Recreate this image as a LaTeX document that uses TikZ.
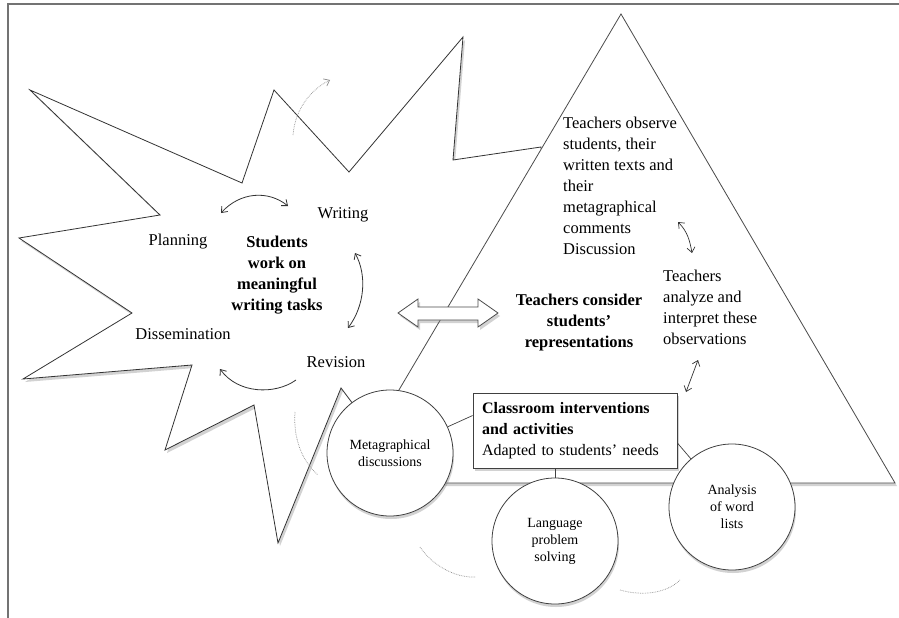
\documentclass[tikz,border=0pt]{standalone}
\usepackage{fontspec}
\setmainfont{Liberation Serif}
\usetikzlibrary{shadows,arrows.meta}
\begin{document}
\begin{tikzpicture}[x=1pt,y=-1pt,
  lbl/.style={font=\fontsize{16.5}{21}\selectfont, inner sep=0pt},
  bld/.style={font=\fontsize{16.5}{21}\selectfont\bfseries, inner sep=0pt},
  circ/.style={circle, draw=black!75, line width=0.8pt, fill=white, minimum size=126pt, inner sep=0pt,
    align=center, font=\fontsize{14}{17}\selectfont,
    drop shadow={shadow xshift=1pt, shadow yshift=-3pt, opacity=0.35}},
  conn/.style={draw=black!75, line width=0.7pt},
  cyc/.style={draw=black!80, line width=0.8pt, -{Straight Barb[length=5pt,width=8pt]}},
  cycb/.style={draw=black!80, line width=0.8pt, {Straight Barb[length=5pt,width=8pt]}-{Straight Barb[length=5pt,width=8pt]}},
  dots/.style={draw=black!45, line width=0.7pt, densely dotted},
  shd/.style={drop shadow={shadow xshift=2pt, shadow yshift=-3pt, opacity=0.35}}
]
\useasboundingbox (0,0) rectangle (899,618);
\fill[white] (0,0) rectangle (899,618);
% frame
\draw[black!55, line width=1.5pt] (899,4) -- (8,4) -- (8,618);

% star
\draw[black!80, line width=0.8pt, fill=white, shd]
  (30,90) -- (242,183) -- (274,90) -- (349,172) -- (463,37) -- (453,160) -- (541,147)
  -- (560,330) -- (380,440) -- (341,388) -- (278,543) -- (254,405) -- (165,450)
  -- (192,365) -- (23,379) -- (132,313) -- (19,238) -- (160,215) -- cycle;

% triangle
\draw[black!70, line width=0.8pt, fill=white, shd] (621,14) -- (895,483) -- (344,483) -- cycle;

% hollow double arrow
\draw[black!70, line width=0.8pt, fill=white, shd]
  (398,313) -- (418,299) -- (418,307) -- (478,307) -- (478,299) -- (498,313)
  -- (478,327) -- (478,320) -- (418,320) -- (418,327) -- cycle;

% star texts
\node[lbl] (writing) at (343,215) {Writing};
\node[lbl] (planning) at (178,242) {Planning};
\node[bld, align=center] (students) at (277,275) {Students\\work on\\meaningful\\writing tasks};
\node[lbl] (dissem) at (183,334) {Dissemination};
\node[lbl] (revision) at (336,362) {Revision};

% cycle arrows
\draw[cycb] (221,213) .. controls (240,192) and (268,190) .. (288,206);
\draw[cycb] (355,253) .. controls (367,275) and (365,305) .. (348,328);
\draw[cyc] (296,380) .. controls (275,395) and (238,394) .. (220,369);
\draw[dots, -{Straight Barb[length=5pt,width=8pt]}] (293,135) .. controls (295,110) and (310,90) .. (330,80);

% triangle texts
\node[lbl, align=left, anchor=west] (observe) at (563,186)
  {Teachers observe\\students, their\\written texts and\\their\\metagraphical\\comments\\Discussion};
\node[lbl, align=left, anchor=west] (analyze) at (663,307)
  {Teachers\\analyze and\\interpret these\\observations};
\node[bld, align=center] (consider) at (579,323) {Teachers consider\\students'\\representations};
\draw[cycb, line width=0.7pt] (678,222) .. controls (688,232) and (690,242) .. (692,253);
\draw[cycb, line width=0.7pt] (698,360) -- (686,392);

% circles
\node[circ] (meta) at (390,453) {Metagraphical\\discussions};
\node[circ] (lang) at (555,541) {Language\\problem\\solving};
\node[circ] (ana) at (732,507) {Analysis\\of word\\lists};

% box
\node[draw=black!75, line width=0.8pt, fill=white, minimum width=204pt, minimum height=75pt,
  text width=186pt, inner sep=9pt, align=left, font=\fontsize{16}{21}\selectfont,
  drop shadow={shadow xshift=1.5pt, shadow yshift=-2.5pt, opacity=0.35}]
  (box) at (575,430.5) {\textbf{Classroom interventions}\\\textbf{and activities}\\Adapted to students' needs};

% connectors
\draw[conn] (meta) -- ([yshift=15pt]box.west);
\draw[conn] (lang.north) -- (lang.north |- box.south);
\draw[conn] ([yshift=-12.5pt]box.east) -- (ana);

% dotted arcs
\draw[dots] (295,412) .. controls (293,440) and (303,462) .. (318,475);
\draw[dots] (420,547) .. controls (432,565) and (455,578) .. (475,577);
\draw[dots] (620,590) .. controls (645,597) and (668,592) .. (680,580);
\end{tikzpicture}
\end{document}
